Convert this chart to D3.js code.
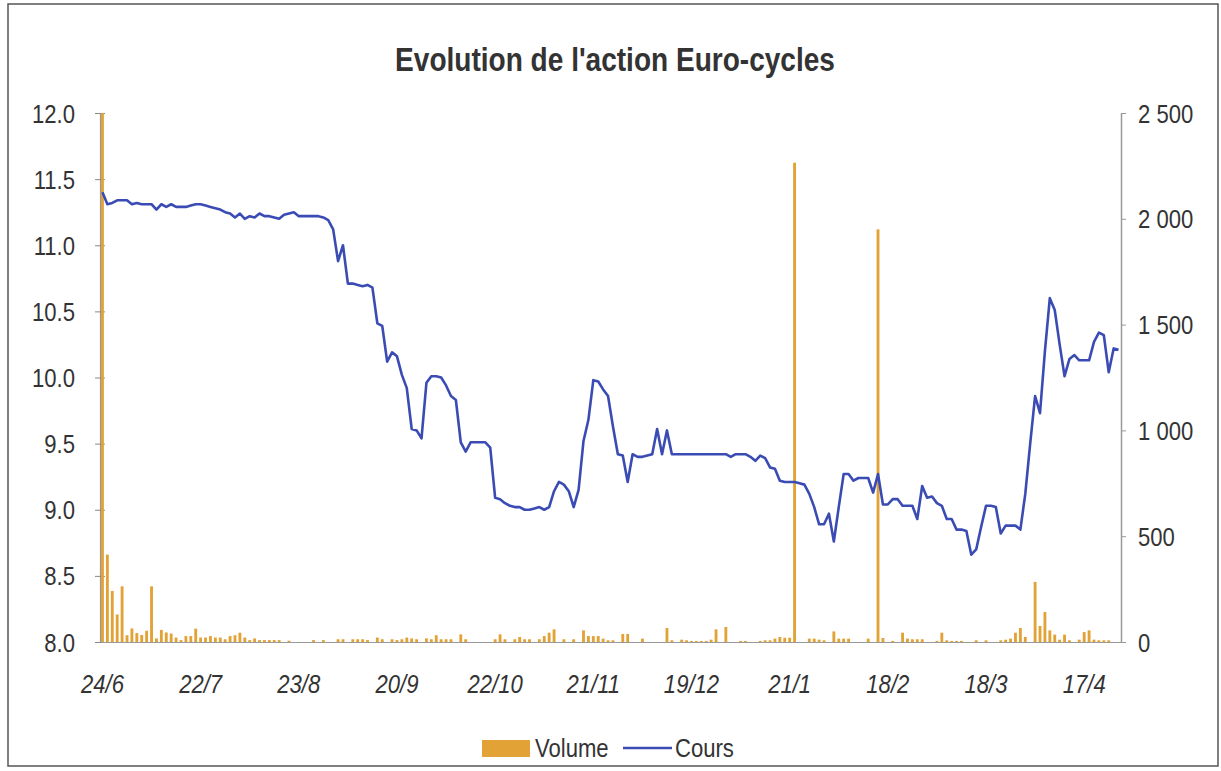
<!DOCTYPE html>
<html>
<head>
<meta charset="utf-8">
<script src="https://cdn.jsdelivr.net/npm/d3@7/dist/d3.min.js"></script>
<style>
  html, body { margin: 0; padding: 0; background: #fff; }
  svg { display: block; }
</style>
</head>
<body>
<script>
// ---------- DATA ----------
const title = "Evolution de l'action Euro-cycles";
const tickLabels = ["24/6","22/7","23/8","20/9","22/10","21/11","19/12","21/1","18/2","18/3","17/4"];
const labelEvery = 20;
const leftTicks = [8.0, 8.5, 9.0, 9.5, 10.0, 10.5, 11.0, 11.5, 12.0];
const rightTicks = [0, 500, 1000, 1500, 2000, 2500];

const cours = [
  11.40, 11.31, 11.32, 11.34, 11.34, 11.34, 11.31, 11.32, 11.31, 11.31,
  11.31, 11.27, 11.31, 11.29, 11.31, 11.29, 11.29, 11.29, 11.30, 11.31,
  11.31, 11.30, 11.29, 11.28, 11.27, 11.25, 11.24, 11.21, 11.24, 11.20,
  11.22, 11.21, 11.24, 11.22, 11.22, 11.21, 11.20, 11.23, 11.24, 11.25,
  11.22, 11.22, 11.22, 11.22, 11.22, 11.21, 11.19, 11.12, 10.88, 11.00,
  10.71, 10.71, 10.70, 10.69, 10.70, 10.68, 10.41, 10.39, 10.12, 10.19,
  10.16, 10.02, 9.92, 9.61, 9.60, 9.54, 9.96, 10.01, 10.01, 10.00,
  9.94, 9.86, 9.83, 9.51, 9.44, 9.51, 9.51, 9.51, 9.51, 9.47,
  9.09, 9.08, 9.05, 9.03, 9.02, 9.02, 9.00, 9.00, 9.01, 9.02,
  9.00, 9.02, 9.14, 9.21, 9.19, 9.14, 9.02, 9.15, 9.52, 9.68,
  9.98, 9.97, 9.91, 9.86, 9.63, 9.42, 9.41, 9.21, 9.42, 9.40,
  9.40, 9.41, 9.42, 9.61, 9.42, 9.60, 9.42, 9.42, 9.42, 9.42,
  9.42, 9.42, 9.42, 9.42, 9.42, 9.42, 9.42, 9.42, 9.40, 9.42,
  9.42, 9.42, 9.40, 9.37, 9.41, 9.39, 9.32, 9.31, 9.22, 9.21,
  9.21, 9.21, 9.20, 9.19, 9.12, 9.02, 8.89, 8.89, 8.97, 8.76,
  9.02, 9.27, 9.27, 9.22, 9.24, 9.24, 9.24, 9.13, 9.27, 9.04,
  9.04, 9.08, 9.08, 9.03, 9.03, 9.03, 8.93, 9.18, 9.09, 9.10,
  9.05, 9.03, 8.93, 8.93, 8.85, 8.85, 8.84, 8.66, 8.70, 8.87,
  9.03, 9.03, 9.02, 8.82, 8.88, 8.88, 8.88, 8.85, 9.12, 9.50,
  9.86, 9.73, 10.20, 10.60, 10.51, 10.25, 10.01, 10.14, 10.17, 10.13,
  10.13, 10.13, 10.27, 10.34, 10.32, 10.04, 10.22, 10.21
];

const volume = [
  2500, 413, 241, 130, 263, 32, 64, 42, 33, 53,
  263, 17, 57, 45, 40, 21, 9, 28, 28, 63,
  21, 21, 28, 21, 21, 13, 28, 32, 44, 21,
  9, 17, 9, 9, 9, 9, 9, 0, 6, 0,
  0, 0, 0, 9, 0, 9, 0, 0, 13, 13,
  0, 13, 13, 13, 9, 0, 21, 13, 0, 13,
  9, 13, 21, 17, 13, 0, 17, 13, 32, 13,
  13, 13, 0, 36, 13, 0, 0, 0, 0, 0,
  13, 36, 13, 0, 13, 24, 13, 13, 0, 13,
  28, 44, 60, 0, 13, 0, 13, 0, 55, 28,
  28, 28, 16, 8, 8, 0, 38, 38, 0, 0,
  16, 0, 0, 0, 0, 66, 8, 0, 11, 8,
  5, 5, 5, 5, 11, 60, 0, 71, 0, 0,
  5, 5, 0, 0, 5, 8, 8, 16, 24, 20,
  20, 2265, 0, 0, 16, 16, 11, 8, 0, 50,
  16, 16, 16, 0, 0, 0, 16, 0, 1950, 19,
  0, 5, 0, 44, 16, 13, 13, 13, 0, 0,
  5, 44, 8, 5, 5, 5, 0, 0, 8, 0,
  8, 0, 0, 8, 11, 16, 44, 66, 24, 0,
  284, 76, 142, 55, 35, 11, 35, 8, 0, 11,
  47, 55, 11, 8, 8, 8, 0, 0
];

// ---------- LAYOUT ----------
const W = 1221, H = 771;
const plot = { left: 100, right: 1121, top: 113, bottom: 642 };
const SX = 0.85; // horizontal text compression matching the reference
const FONT = "'Liberation Sans', Arial, Helvetica, sans-serif";
const barColor = "#E2A235";
const lineColor = "#3A4CB4";
const textColor = "#333";

const svg = d3.select("body").append("svg").attr("width", W).attr("height", H);

// outer frame
svg.append("rect").attr("x", 8).attr("y", 4).attr("width", 1210).attr("height", 762)
  .attr("fill", "none").attr("stroke", "#555").attr("stroke-width", 1.5);

// title
svg.append("text")
  .attr("transform", `translate(615,71) scale(${SX},1)`)
  .attr("text-anchor", "middle").attr("font-family", FONT).attr("font-weight", "bold")
  .attr("font-size", 33).attr("fill", "#333").text(title);

// scales
const idx = d3.range(cours.length);
const x = d3.scaleBand().domain(idx).range([plot.left, plot.right]).paddingInner(0.42).paddingOuter(0.21);
const cx = i => x(i) + x.bandwidth() / 2;
const yL = d3.scaleLinear().domain([8, 12]).range([plot.bottom, plot.top]);
const yR = d3.scaleLinear().domain([0, 2500]).range([plot.bottom, plot.top]);

const locale = d3.formatLocale({ decimal: ".", thousands: " ", grouping: [3], currency: ["", ""] });
const fmtR = locale.format(",d");

// left axis
const gL = svg.append("g").attr("transform", `translate(${plot.left},0)`)
  .call(d3.axisLeft(yL).tickValues(leftTicks).tickFormat(d3.format(".1f")).tickSizeOuter(0).tickSizeInner(5));
gL.attr("font-family", FONT).attr("font-size", 26);
gL.select(".domain").attr("stroke", "#999").attr("stroke-width", 1.2);
gL.selectAll(".tick line").attr("x1", 5).attr("stroke", "#888");
gL.selectAll(".tick text").attr("x", 0).attr("dy", 0).attr("fill", textColor)
  .attr("transform", `translate(-25,9) scale(${SX},1)`);

// right axis
const gR = svg.append("g").attr("transform", `translate(${plot.right},0)`)
  .call(d3.axisRight(yR).tickValues(rightTicks).tickFormat(fmtR).tickSizeOuter(0).tickSizeInner(5));
gR.attr("font-family", FONT).attr("font-size", 26);
gR.select(".domain").attr("stroke", "#999").attr("stroke-width", 1.5);
gR.selectAll(".tick line").attr("stroke", "#999");
gR.selectAll(".tick text").attr("x", 0).attr("dy", 0).attr("fill", textColor)
  .attr("transform", `translate(17,9) scale(${SX},1)`);

// bottom axis
const gB = svg.append("g").attr("transform", `translate(0,${plot.bottom})`)
  .call(d3.axisBottom(x).tickValues(idx.filter(i => i % labelEvery === 0))
    .tickFormat(i => tickLabels[i / labelEvery]).tickSize(0).tickSizeOuter(0));
gB.attr("font-family", FONT).attr("font-size", 26);
gB.select(".domain").attr("stroke", "#999").attr("stroke-width", 1.2);
gB.selectAll(".tick text").attr("y", 0).attr("dy", 0).attr("fill", textColor)
  .attr("font-style", "italic")
  .attr("transform", `translate(0,51) scale(${SX},1)`);

// volume bars
svg.append("g").selectAll("rect").data(idx).join("rect")
  .attr("x", i => x(i)).attr("width", x.bandwidth())
  .attr("y", i => yR(volume[i])).attr("height", i => plot.bottom - yR(volume[i]))
  .attr("fill", barColor);

// price line
svg.append("path").datum(idx)
  .attr("d", d3.line().x(i => cx(i)).y(i => yL(cours[i])))
  .attr("fill", "none").attr("stroke", lineColor).attr("stroke-width", 2.6)
  .attr("stroke-linejoin", "round");

// legend
const lg = svg.append("g").attr("font-family", FONT).attr("font-size", 26).attr("fill", textColor);
lg.append("rect").attr("x", 482).attr("y", 740).attr("width", 48).attr("height", 17).attr("fill", barColor);
lg.append("text").attr("transform", `translate(535,757) scale(${SX},1)`).text("Volume");
lg.append("line").attr("x1", 623).attr("x2", 672).attr("y1", 748).attr("y2", 748)
  .attr("stroke", lineColor).attr("stroke-width", 2.6);
lg.append("text").attr("transform", `translate(675,757) scale(${SX},1)`).text("Cours");
</script>
</body>
</html>
